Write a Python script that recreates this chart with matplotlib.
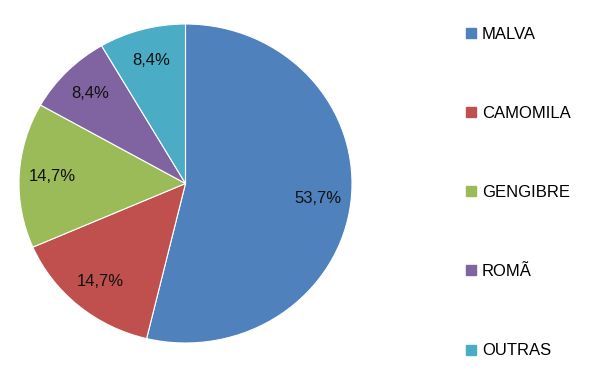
import matplotlib.pyplot as plt
from matplotlib.lines import Line2D

plt.rcParams['font.family'] = ['Liberation Sans', 'DejaVu Sans']

# data
categories = ["MALVA", "CAMOMILA", "GENGIBRE", "ROMÃ", "OUTRAS"]
shares = [53.7, 14.7, 14.7, 8.4, 8.4]
labels = ["53,7%", "14,7%", "14,7%", "8,4%", "8,4%"]
colors = ["#4F81BD", "#C0504D", "#9BBB59", "#8064A2", "#4BACC6"]

W, H = 592, 379
fig = plt.figure(figsize=(W / 100, H / 100), dpi=100)

# pie area (slightly squashed, as in the original picture)
left, right, top, bottom = 19, 352, 24, 343
ax = fig.add_axes([left / W, (H - bottom) / H, (right - left) / W, (bottom - top) / H])

wedges, texts = ax.pie(shares, colors=colors, startangle=90, counterclock=False,
                       radius=1.0, labels=labels, labeldistance=0.8,
                       wedgeprops=dict(edgecolor="white", linewidth=0.8),
                       textprops=dict(fontsize=12, color="#111111", ha="center", va="center"))
ax.set_aspect("auto")
ax.set_xlim(-1, 1)
ax.set_ylim(-1, 1)
ax.axis("off")

handles = [Line2D([], [], marker="s", linestyle="none", markersize=6.5,
                  markerfacecolor=c, markeredgecolor=c) for c in colors]
fig.legend(handles, categories, loc="center left", bbox_to_anchor=(466 / W, 0.492),
           frameon=False, fontsize=12, handlelength=0.6, handletextpad=0.35,
           labelspacing=3.85, borderpad=0, borderaxespad=0)

fig.savefig("out.png", dpi=100)
